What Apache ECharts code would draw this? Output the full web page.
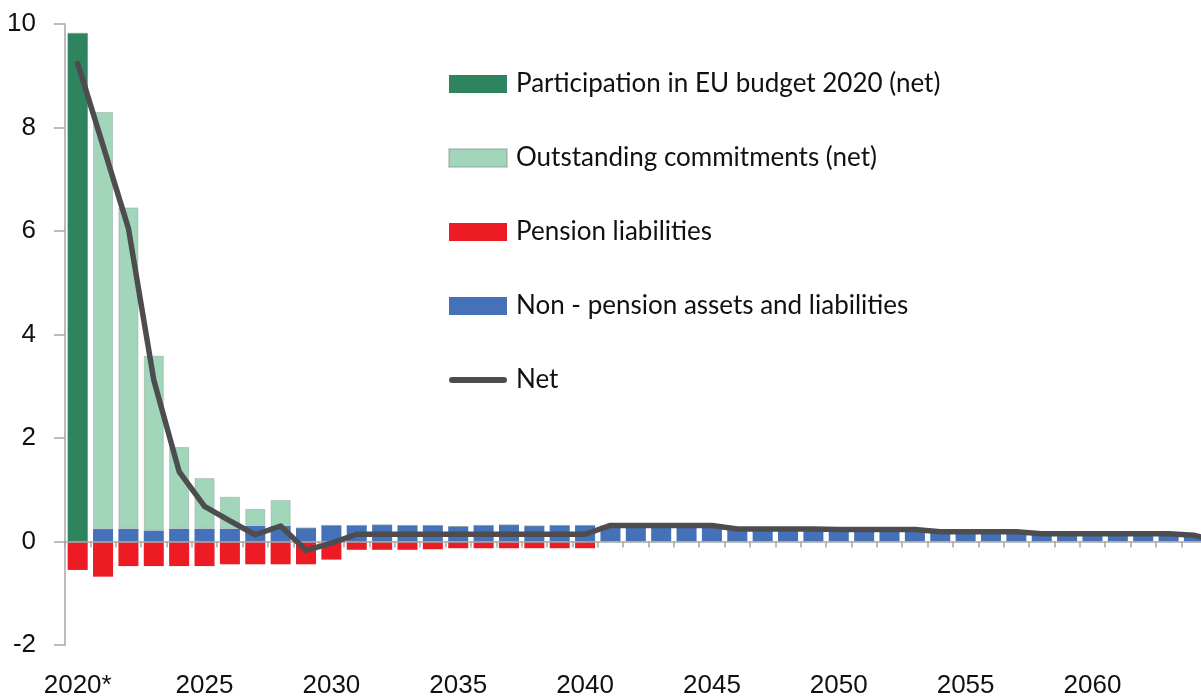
<!DOCTYPE html>
<html>
<head>
<meta charset="utf-8">
<script src="https://cdn.jsdelivr.net/npm/echarts@6/dist/echarts.min.js"></script>
<style>
html,body{margin:0;padding:0;background:#fff;}
#chart{width:1201px;height:700px;}
</style>
</head>
<body>
<div id="chart"></div>
<script>
// Years 2020..2065 (2065 lies just past the right edge, as in the reference)
var years = ['2020*','2021','2022','2023','2024','2025','2026','2027','2028','2029',
  '2030','2031','2032','2033','2034','2035','2036','2037','2038','2039',
  '2040','2041','2042','2043','2044','2045','2046','2047','2048','2049',
  '2050','2051','2052','2053','2054','2055','2056','2057','2058','2059',
  '2060','2061','2062','2063','2064','2065'];

var tickLabels = ['2020*','2025','2030','2035','2040','2045','2050','2055','2060'];

var euBudget = [9.82,0,0,0,0,0,0,0,0,0, 0,0,0,0,0,0,0,0,0,0, 0,0,0,0,0,0,0,0,0,0, 0,0,0,0,0,0,0,0,0,0, 0,0,0,0,0,0];

var outstanding = [0,8.06,6.21,3.38,1.58,0.98,0.62,0.33,0.50,0, 0,0,0,0,0,0,0,0,0,0, 0,0,0,0,0,0,0,0,0,0, 0,0,0,0,0,0,0,0,0,0, 0,0,0,0,0,0];

var pension = [-0.55,-0.68,-0.475,-0.475,-0.475,-0.475,-0.44,-0.44,-0.44,-0.44,
  -0.35,-0.16,-0.16,-0.16,-0.15,-0.13,-0.13,-0.13,-0.13,-0.13,
  -0.13,0,0,0,0,0,0,0,0,0, 0,0,0,0,0,0,0,0,0,0, 0,0,0,0,0,0];

var nonPension = [0,0.24,0.245,0.21,0.245,0.245,0.245,0.30,0.30,0.26,
  0.31,0.31,0.32,0.31,0.31,0.29,0.31,0.32,0.30,0.31,
  0.31,0.30,0.30,0.30,0.30,0.30,0.24,0.24,0.24,0.24,
  0.23,0.23,0.23,0.23,0.19,0.19,0.19,0.19,0.15,0.15,
  0.15,0.15,0.15,0.15,0.12,0.0];

var net = [9.24,7.65,6.05,3.12,1.35,0.68,0.40,0.13,0.30,-0.17,
  -0.03,0.14,0.14,0.14,0.14,0.14,0.14,0.14,0.14,0.14,
  0.14,0.31,0.31,0.31,0.31,0.31,0.24,0.24,0.24,0.24,
  0.23,0.23,0.23,0.23,0.19,0.19,0.19,0.19,0.15,0.15,
  0.15,0.15,0.15,0.15,0.12,0.0];

var yTicks = {min:-2, max:10, interval:2};

var names = ['Participation in EU budget 2020 (net)','Outstanding commitments (net)',
  'Pension liabilities','Non - pension assets and liabilities','Net'];

var chart = echarts.init(document.getElementById('chart'), null, {renderer:'canvas'});
var axisGray = '#a6a6a6';
var lineColor = '#4d4d4f';
var option = {
  animation:false,
  backgroundColor:'#ffffff',
  grid:{left:65, top:24, bottom:55, right:-31, containLabel:false, outerBoundsMode:'none'},
  legend:{
    orient:'vertical', left:448, top:71, padding:0,
    itemWidth:58, itemHeight:18, itemGap:48,
    textStyle:{fontFamily:'Lato', fontSize:26, color:'#111', lineHeight:26, padding:[0,0,0,4]},
    data:[
      {name:names[0], icon:'rect'},
      {name:names[1], icon:'rect'},
      {name:names[2], icon:'rect'},
      {name:names[3], icon:'rect'},
      {name:names[4], icon:'path://M3,0 L55,0 A3,3 0 0 1 55,6 L3,6 A3,3 0 0 1 3,0 Z',
       itemStyle:{color:lineColor, borderWidth:0}}
    ]
  },
  xAxis:{
    type:'category', data:years, boundaryGap:true, z:3,
    axisLine:{onZero:true, lineStyle:{color:axisGray, width:1.5}},
    axisTick:{show:true, interval:0, length:6, lineStyle:{color:axisGray, width:1.5}},
    axisLabel:{interval:0, margin:28, fontFamily:'Liberation Sans', fontSize:26, color:'#111',
      formatter:function(v){ return tickLabels.indexOf(v) >= 0 ? v : ''; }}
  },
  yAxis:{
    type:'value', min:yTicks.min, max:yTicks.max, interval:yTicks.interval,
    splitLine:{show:false},
    axisLine:{show:true, lineStyle:{color:axisGray, width:1.5}},
    axisTick:{show:true, length:11, lineStyle:{color:axisGray, width:1.5}},
    axisLabel:{margin:29, fontFamily:'Liberation Sans', fontSize:26, color:'#111'}
  },
  series:[
    {name:names[3], type:'bar', stack:'s', data:nonPension, barCategoryGap:'21%',
     itemStyle:{color:'#4571b9'}},
    {name:names[0], type:'bar', stack:'s', data:euBudget, barCategoryGap:'21%',
     itemStyle:{color:'#2e845e'}},
    {name:names[1], type:'bar', stack:'s', data:outstanding, barCategoryGap:'21%',
     itemStyle:{color:'#a1d6bb', borderColor:'rgba(140,160,150,0.45)', borderWidth:1}},
    {name:names[2], type:'bar', stack:'s', data:pension, barCategoryGap:'21%',
     itemStyle:{color:'#ed1c24'}},
    {name:names[4], type:'line', data:net, symbol:'none', z:6,
     lineStyle:{color:lineColor, width:5.5, cap:'round', join:'round'},
     itemStyle:{color:lineColor}}
  ]
};
chart.setOption(option);
</script>
</body>
</html>
